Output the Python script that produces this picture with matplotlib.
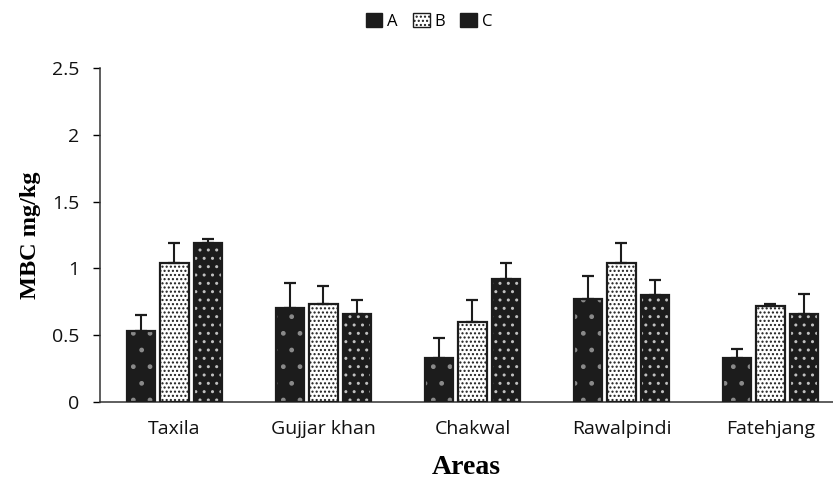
import numpy as np
import matplotlib
matplotlib.use("Agg")
import matplotlib.pyplot as plt
from matplotlib.patches import Patch

areas = ["Taxila", "Gujjar khan", "Chakwal", "Rawalpindi", "Fatehjang"]
series = ["A", "B", "C"]
vals_a = [0.53, 0.70, 0.33, 0.77, 0.33]
vals_b = [1.04, 0.73, 0.60, 1.04, 0.72]
vals_c = [1.19, 0.66, 0.92, 0.80, 0.66]
err_a = [0.12, 0.19, 0.15, 0.17, 0.07]
err_b = [0.15, 0.14, 0.16, 0.15, 0.01]
err_c = [0.03, 0.10, 0.12, 0.11, 0.15]

plt.rcParams["hatch.linewidth"] = 1.0

fig = plt.figure(figsize=(8.33, 4.93), dpi=100)
ax = fig.add_axes([0.12, 0.1846, 0.88, 0.6775])

x = np.arange(len(areas))
w = 0.19
pitch = 0.225
dark = "#1c1c1c"
styles = [
    dict(color=dark, hatch_col="#8a8a8a", hatch="."),
    dict(color="white", hatch_col=dark, hatch="...."),
    dict(color=dark, hatch_col="#c0c0c0", hatch=".."),
]
handles = []
for i, (vals, errs, st) in enumerate(zip([vals_a, vals_b, vals_c],
                                         [err_a, err_b, err_c], styles)):
    pos = x + (i - 1) * pitch
    ax.bar(pos, vals, w, color=st["color"], edgecolor=st["hatch_col"],
           hatch=st["hatch"], linewidth=0, zorder=2)
    ax.bar(pos, vals, w, color="none", edgecolor=dark, linewidth=1.6, zorder=3)
    ax.errorbar(pos, vals, yerr=[np.zeros(len(errs)), errs], fmt="none",
                ecolor=dark, elinewidth=1.5, capsize=4, capthick=1.6, zorder=4)
    handles.append(Patch(facecolor=st["color"], edgecolor=dark,
                         hatch=st["hatch"], linewidth=1))

ax.set_xlim(-0.5, 4.42)
ax.set_ylim(0, 2.5)
ax.set_yticks([0, 0.5, 1, 1.5, 2, 2.5])
ax.set_yticklabels(["0", "0.5", "1", "1.5", "2", "2.5"])
ax.set_xticks(x)
ax.set_xticklabels(areas)
ax.tick_params(axis="x", length=0, pad=13, labelsize=14)
ax.tick_params(axis="y", direction="out", length=5, width=1, pad=10,
               labelsize=14)
for lab in ax.get_xticklabels() + ax.get_yticklabels():
    lab.set_family("Open Sans")
    lab.set_color("#111111")
ax.spines["top"].set_visible(False)
ax.spines["right"].set_visible(False)
for s in ("left", "bottom"):
    ax.spines[s].set_color("#333333")
    ax.spines[s].set_linewidth(1.1)

ax.set_xlabel("Areas", family="Liberation Serif", fontweight="bold",
              fontsize=20, labelpad=12)
ax.set_ylabel("MBC mg/kg", family="Liberation Serif", fontweight="bold",
              fontsize=17.5, labelpad=8)

fig.legend(handles, series, loc="upper center", bbox_to_anchor=(0.515, 1.005),
           ncol=3, frameon=False, handlelength=1.0, handleheight=1.0,
           handletextpad=0.3, columnspacing=0.9,
           prop={"family": "Open Sans", "size": 12})

fig.savefig("out.png", dpi=100)
